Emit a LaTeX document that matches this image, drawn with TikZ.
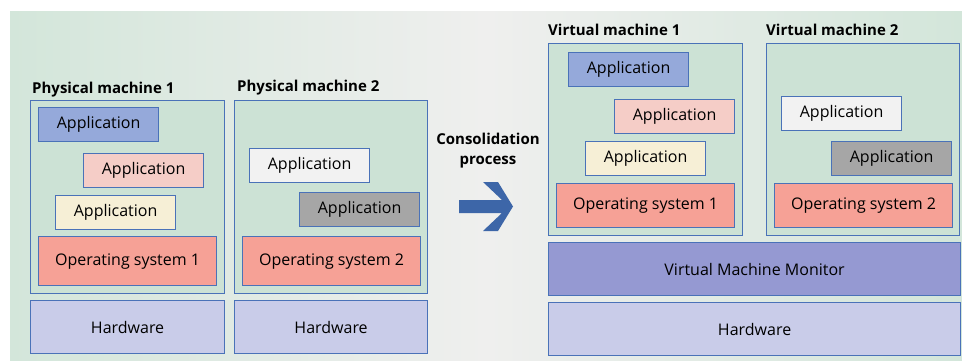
\documentclass[tikz,border=0pt]{standalone}
\usepackage{fontspec}
\setmainfont{Open Sans}
\usetikzlibrary{positioning}
\definecolor{bggreen}{HTML}{D3E6DA}
\definecolor{bggray}{HTML}{EFEFEE}
\definecolor{machfill}{HTML}{CCE2D5}
\definecolor{frameblue}{HTML}{4A72B8}
\definecolor{appblue}{HTML}{95A9DA}
\definecolor{apppink}{HTML}{F5CDC7}
\definecolor{appyellow}{HTML}{F6EFD6}
\definecolor{appwhite}{HTML}{F2F2F2}
\definecolor{appgray}{HTML}{A6A6A6}
\definecolor{osred}{HTML}{F6A196}
\definecolor{vmmblue}{HTML}{9599D2}
\definecolor{hwblue}{HTML}{C9CCE9}
\definecolor{arrowblue}{HTML}{3D66A8}
\tikzset{
    layer/.style={rectangle, draw=frameblue, line width=1.2pt, anchor=north west, inner sep=0pt, font=\fontsize{16}{19}\selectfont},
    machine/.style={layer, fill=machfill},
    app/.style={layer, minimum width=120pt, minimum height=34pt},
    os/.style={layer, fill=osred, minimum width=178pt, minimum height=49pt},
    hw/.style={layer, fill=hwblue, minimum height=53pt},
    title/.style={anchor=base west, inner sep=0pt, font=\fontsize{15}{18}\selectfont\bfseries}
}
\begin{document}
\begin{tikzpicture}[x=1pt, y=-1pt]
    \useasboundingbox (0,0) rectangle (962,361);
    % Background
    \shade [left color=bggreen, right color=bggreen, middle color=bggray] (10,12) rectangle (962,361);
    
    % Physical machine 1
    \node [machine, minimum width=194pt, minimum height=193pt] (pm1) at (30,100) {};
    \node [title] (pm1-title) at (32,93) {Physical machine 1};
    \node [app, fill=appblue] (pm1-app1) at (38,107) {Application};
    \node [app, fill=apppink] (pm1-app2) at (83,153) {Application};
    \node [app, fill=appyellow] (pm1-app3) at (55,195) {Application};
    \node [os] (pm1-os) at (38,236) {Operating system 1};
    \node [hw, minimum width=194pt] (pm1-hw) at (30,300) {Hardware};
    
    % Physical machine 2
    \node [machine, minimum width=193pt, minimum height=193pt] (pm2) at (234,100) {};
    \node [title] (pm2-title) at (237,92) {Physical machine 2};
    \node [app, fill=appwhite] (pm2-app1) at (249,148) {Application};
    \node [app, fill=appgray] (pm2-app2) at (299,192) {Application};
    \node [os] (pm2-os) at (242,236) {Operating system 2};
    \node [hw, minimum width=193pt] (pm2-hw) at (234,300) {Hardware};
    
    % Consolidation
    \node [font=\fontsize{15}{20}\selectfont\bfseries, align=center] (consol) at (488,151) {Consolidation\\process};
    \fill [arrowblue] (459,200) -- (502,200) -- (483,182) -- (498,182) -- (513,206.5)
        -- (498,231) -- (483,231) -- (502,213) -- (459,213) -- cycle;
    
    % Virtual machine 1
    \node [machine, minimum width=194pt, minimum height=192pt] (vm1) at (548,43) {};
    \node [title] (vm1-title) at (548,36) {Virtual machine 1};
    \node [app, fill=appblue] (vm1-app1) at (568,52) {Application};
    \node [app, fill=apppink] (vm1-app2) at (614,99) {Application};
    \node [app, fill=appyellow] (vm1-app3) at (585,141) {Application};
    \node [os, minimum height=44pt] (vm1-os) at (556,183) {Operating system 1};
    
    % Virtual machine 2
    \node [machine, minimum width=193pt, minimum height=192pt] (vm2) at (766,43) {};
    \node [title] (vm2-title) at (766,36) {Virtual machine 2};
    \node [app, fill=appwhite] (vm2-app1) at (781,96) {Application};
    \node [app, fill=appgray] (vm2-app2) at (831,141) {Application};
    \node [os, minimum height=44pt] (vm2-os) at (774,183) {Operating system 2};
    
    % Monitor and hardware
    \node [layer, fill=vmmblue, minimum width=412pt, minimum height=53pt] (vmm) at (548,242) {Virtual Machine Monitor};
    \node [hw, minimum width=412pt] (vm-hw) at (548,302) {Hardware};
\end{tikzpicture}
\end{document}
